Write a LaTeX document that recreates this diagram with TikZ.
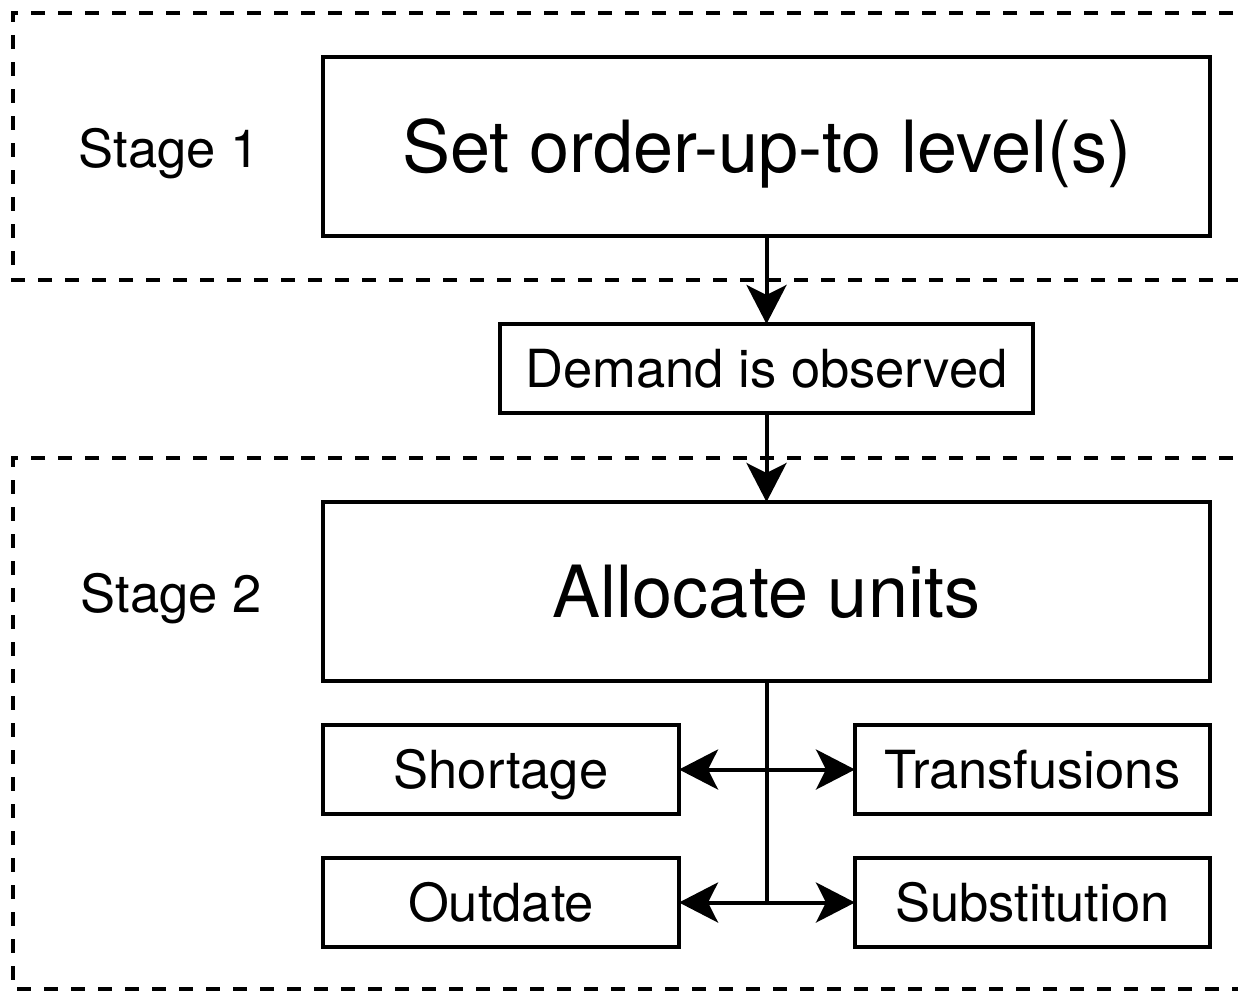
\documentclass[tikz,border=0pt]{standalone}
\usepackage{fontspec}
\setmainfont{TeX Gyre Heros}
\usetikzlibrary{arrows.meta}
\begin{document}
\begin{tikzpicture}[x=1pt,y=-1pt,
  box/.style={draw=black, line width=4.5pt, inner sep=0pt, outer sep=0pt, text depth=0pt},
  wide/.style={box, minimum width=887pt, minimum height=179pt,
    font=\fontsize{72}{86}\selectfont, text height=51.7pt},
  small/.style={box, minimum width=355pt, minimum height=89pt,
    font=\fontsize{52.5}{63}\selectfont, text height=37.7pt},
  label/.style={inner sep=0pt, font=\fontsize{52.5}{63}\selectfont, text height=37.7pt, text depth=0pt},
  stageframe/.style={draw=black, line width=4.5pt, dash pattern=on 14pt off 13pt},
  tip/.tip={Stealth[length=39pt,width=40pt,inset=10pt]},
  flow/.style={line width=4pt, -tip},
  twoway/.style={line width=4pt, tip-tip},
]
\useasboundingbox (0,0) rectangle (1238,990);
\clip (0,0) rectangle (1238,990);

% stage frames (open on the right)
\draw[stageframe] (1260,13) -- (13,13) -- (13,280) -- (1260,280);
\draw[stageframe] (1260,458) -- (13,458) -- (13,989) -- (1260,989);

\node[label] (st1) at (169,149) {Stage 1};
\node[label] (st2) at (171,594) {Stage 2};

\node[wide] (setlvl) at (766.5,146.5) {Set order-up-to level(s)};
\node[small, minimum width=533pt] (demand) at (766.5,368.5) {Demand is observed};
\node[wide] (alloc) at (766.5,591.5) {Allocate units};

\node[small, minimum width=356pt] (short) at (501,769.5) {Shortage};
\node[small] (transf) at (1032.5,769.5) {Transfusions};
\node[small, minimum width=356pt] (outd) at (501,902.5) {Outdate};
\node[small] (subst) at (1032.5,902.5) {Substitution};

\draw[flow] (setlvl.south) -- (demand.north);
\draw[flow] (demand.south) -- (alloc.north);

\coordinate (split) at (alloc.south |- outd.east);
\draw[line width=4pt] (alloc.south) -- (split);
\draw[twoway] (short.east) -- (transf.west);
\draw[twoway] (outd.east) -- (subst.west);
\end{tikzpicture}
\end{document}
